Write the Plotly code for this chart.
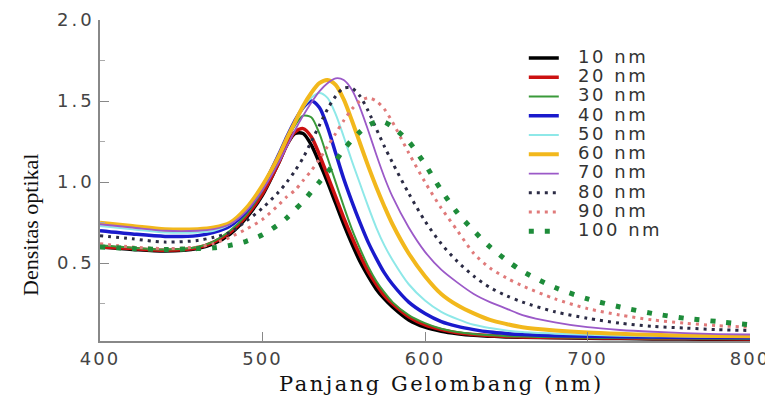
import plotly.graph_objects as go

# ---- data ----
wavelength = [400, 420, 440, 460, 470, 480, 490, 500, 510, 515, 520, 525, 530, 535, 540,
              545, 550, 555, 560, 565, 570, 575, 580, 590, 600, 610, 620, 630, 640, 650,
              660, 680, 700, 720, 740, 760, 780, 800]

sizes = ["10 nm", "20 nm", "30 nm", "40 nm", "50 nm", "60 nm", "70 nm", "80 nm", "90 nm", "100 nm"]

s10 = [0.60, 0.585, 0.575, 0.59, 0.62, 0.68, 0.78, 0.92, 1.12, 1.23, 1.30, 1.30, 1.23, 1.12, 1.00,
       0.87, 0.74, 0.62, 0.51, 0.42, 0.34, 0.28, 0.23, 0.15, 0.105, 0.08, 0.065, 0.055, 0.05, 0.045,
       0.043, 0.04, 0.037, 0.035, 0.033, 0.032, 0.031, 0.03]
s20 = [0.60, 0.59, 0.58, 0.595, 0.63, 0.69, 0.79, 0.93, 1.12, 1.23, 1.31, 1.33, 1.28, 1.17, 1.04,
       0.91, 0.78, 0.66, 0.55, 0.45, 0.37, 0.30, 0.25, 0.17, 0.12, 0.09, 0.07, 0.06, 0.053, 0.048,
       0.045, 0.042, 0.04, 0.038, 0.036, 0.035, 0.034, 0.033]
s30 = [0.61, 0.595, 0.585, 0.60, 0.635, 0.70, 0.80, 0.95, 1.15, 1.26, 1.35, 1.41, 1.40, 1.30, 1.15,
       1.00, 0.85, 0.71, 0.59, 0.48, 0.39, 0.32, 0.26, 0.18, 0.13, 0.095, 0.075, 0.063, 0.056, 0.05,
       0.047, 0.043, 0.04, 0.038, 0.036, 0.035, 0.034, 0.033]
s40 = [0.70, 0.68, 0.665, 0.67, 0.69, 0.73, 0.82, 0.97, 1.17, 1.28, 1.38, 1.46, 1.50, 1.46, 1.34,
       1.18, 1.02, 0.88, 0.75, 0.63, 0.53, 0.44, 0.37, 0.26, 0.19, 0.14, 0.11, 0.09, 0.075, 0.066,
       0.06, 0.053, 0.049, 0.046, 0.044, 0.042, 0.041, 0.04]
s50 = [0.73, 0.71, 0.69, 0.69, 0.70, 0.74, 0.83, 0.97, 1.16, 1.27, 1.37, 1.46, 1.52, 1.55, 1.52,
       1.42, 1.28, 1.13, 0.99, 0.85, 0.72, 0.61, 0.52, 0.37, 0.27, 0.20, 0.155, 0.12, 0.10, 0.085,
       0.075, 0.065, 0.058, 0.053, 0.05, 0.048, 0.046, 0.045]
s60 = [0.75, 0.73, 0.71, 0.71, 0.72, 0.75, 0.84, 0.98, 1.16, 1.27, 1.37, 1.47, 1.55, 1.61, 1.63,
       1.60, 1.51, 1.38, 1.24, 1.10, 0.97, 0.85, 0.74, 0.56, 0.42, 0.31, 0.24, 0.19, 0.15, 0.125,
       0.105, 0.085, 0.072, 0.064, 0.058, 0.054, 0.051, 0.049]
s70 = [0.74, 0.72, 0.70, 0.70, 0.71, 0.74, 0.82, 0.95, 1.12, 1.22, 1.32, 1.41, 1.49, 1.56, 1.61,
       1.64, 1.63, 1.57, 1.46, 1.32, 1.17, 1.03, 0.91, 0.72, 0.57, 0.46, 0.38, 0.31, 0.26, 0.22,
       0.18, 0.135, 0.105, 0.088, 0.077, 0.069, 0.063, 0.06]
s80 = [0.67, 0.65, 0.63, 0.64, 0.66, 0.69, 0.76, 0.84, 0.94, 1.00, 1.07, 1.15, 1.25, 1.35, 1.45,
       1.53, 1.58, 1.58, 1.53, 1.44, 1.33, 1.22, 1.12, 0.93, 0.76, 0.62, 0.51, 0.42, 0.35, 0.30,
       0.26, 0.20, 0.16, 0.13, 0.11, 0.10, 0.09, 0.085]
s90 = [0.62, 0.60, 0.59, 0.60, 0.62, 0.66, 0.71, 0.77, 0.86, 0.91, 0.95, 1.01, 1.07, 1.14, 1.22,
       1.30, 1.38, 1.45, 1.50, 1.52, 1.50, 1.45, 1.37, 1.18, 1.00, 0.84, 0.70, 0.56, 0.47, 0.41,
       0.36, 0.28, 0.22, 0.18, 0.15, 0.13, 0.115, 0.105]
s100 = [0.60, 0.59, 0.585, 0.59, 0.595, 0.61, 0.635, 0.675, 0.74, 0.78, 0.83, 0.88, 0.94, 1.00, 1.06,
        1.13, 1.20, 1.26, 1.31, 1.35, 1.37, 1.37, 1.34, 1.25, 1.11, 0.95, 0.81, 0.70, 0.60, 0.52,
        0.45, 0.35, 0.28, 0.23, 0.19, 0.16, 0.14, 0.12]

series = [s10, s20, s30, s40, s50, s60, s70, s80, s90, s100]

x_ticks = [400, 500, 600, 700, 800]
x_tick_labels = ["400", "500", "600", "700", "800"]
y_ticks = [0.5, 1.0, 1.5, 2.0]
y_tick_labels = ["0.5", "1.0", "1.5", "2.0"]

x_title = "Panjang Gelombang (nm)"
y_title = "Densitas optikal"

# ---- styles ----
colors = ["#000000", "#cc1111", "#3a9a3a", "#1a1acc", "#8ee8e8", "#f2b81c",
          "#9b59c8", "#2b2b44", "#e07a7a", "#1e8c3a"]
widths = [3.5, 3.5, 2, 3.5, 2, 4, 1.8, 3, 3, 5]
dashes = ["solid", "solid", "solid", "solid", "solid", "solid", "solid",
          "3px,5px", "3px,5px", "5px,11px"]


def wide(txt, size, spacing):
    return "<span style='font-size:%gpx;letter-spacing:%gpx'>%s</span>" % (size, spacing, txt)


fig = go.Figure()
for name, vals, c, w, d in zip(sizes, series, colors, widths, dashes):
    fig.add_trace(go.Scatter(
        x=wavelength, y=vals, mode="lines",
        name=wide("\u00a0\u2009" + name, 18, 2.5),
        line=dict(color=c, width=w, dash=d, shape="spline", smoothing=0.8),
    ))

tick_font = dict(family="DejaVu Sans", size=18, color="#444444")

fig.update_layout(
    width=773, height=397,
    margin=dict(l=92, r=31, t=12, b=64, autoexpand=False),
    paper_bgcolor="white", plot_bgcolor="white",
    showlegend=True,
    legend=dict(
        x=0.652, y=0.927, xanchor="left", yanchor="top",
        bgcolor="rgba(0,0,0,0)", borderwidth=0,
        font=dict(family="DejaVu Sans", size=12.5, color="#333333"),
        traceorder="normal",
    ),
    xaxis=dict(
        range=[400, 800], tickvals=x_ticks,
        ticktext=[wide(t, 18, 2) for t in x_tick_labels],
        ticks="inside", ticklen=9, tickcolor="#888888", tickwidth=1.2,
        ticklabelstandoff=1,
        automargin=False,
        showline=True, linecolor="#888888", linewidth=1.5,
        showgrid=False, zeroline=False, tickfont=tick_font,
    ),
    yaxis=dict(
        range=[0.02, 2.0], tickvals=y_ticks,
        ticktext=[wide(t, 18, 3) for t in y_tick_labels],
        ticks="inside", ticklen=9, tickcolor="#888888", tickwidth=1.2,
        minor=dict(dtick=0.25, tick0=0, ticks="inside", ticklen=5, tickcolor="#aaaaaa"),
        automargin=False,
        showline=True, linecolor="#888888", linewidth=1.5,
        showgrid=False, zeroline=False, tickfont=tick_font,
    ),
    annotations=[
        dict(text=wide(x_title, 21, 2.5), xref="paper", yref="paper",
             x=0.526, y=-0.133, xanchor="center", yanchor="middle", showarrow=False,
             font=dict(family="DejaVu Serif", size=21, color="#111111")),
        dict(text=y_title, xref="paper", yref="paper", textangle=-90,
             x=-0.108, y=0.361, xanchor="center", yanchor="middle", showarrow=False,
             font=dict(family="Liberation Serif", size=22, color="#111111")),
    ],
)

fig.write_html("out.html")
